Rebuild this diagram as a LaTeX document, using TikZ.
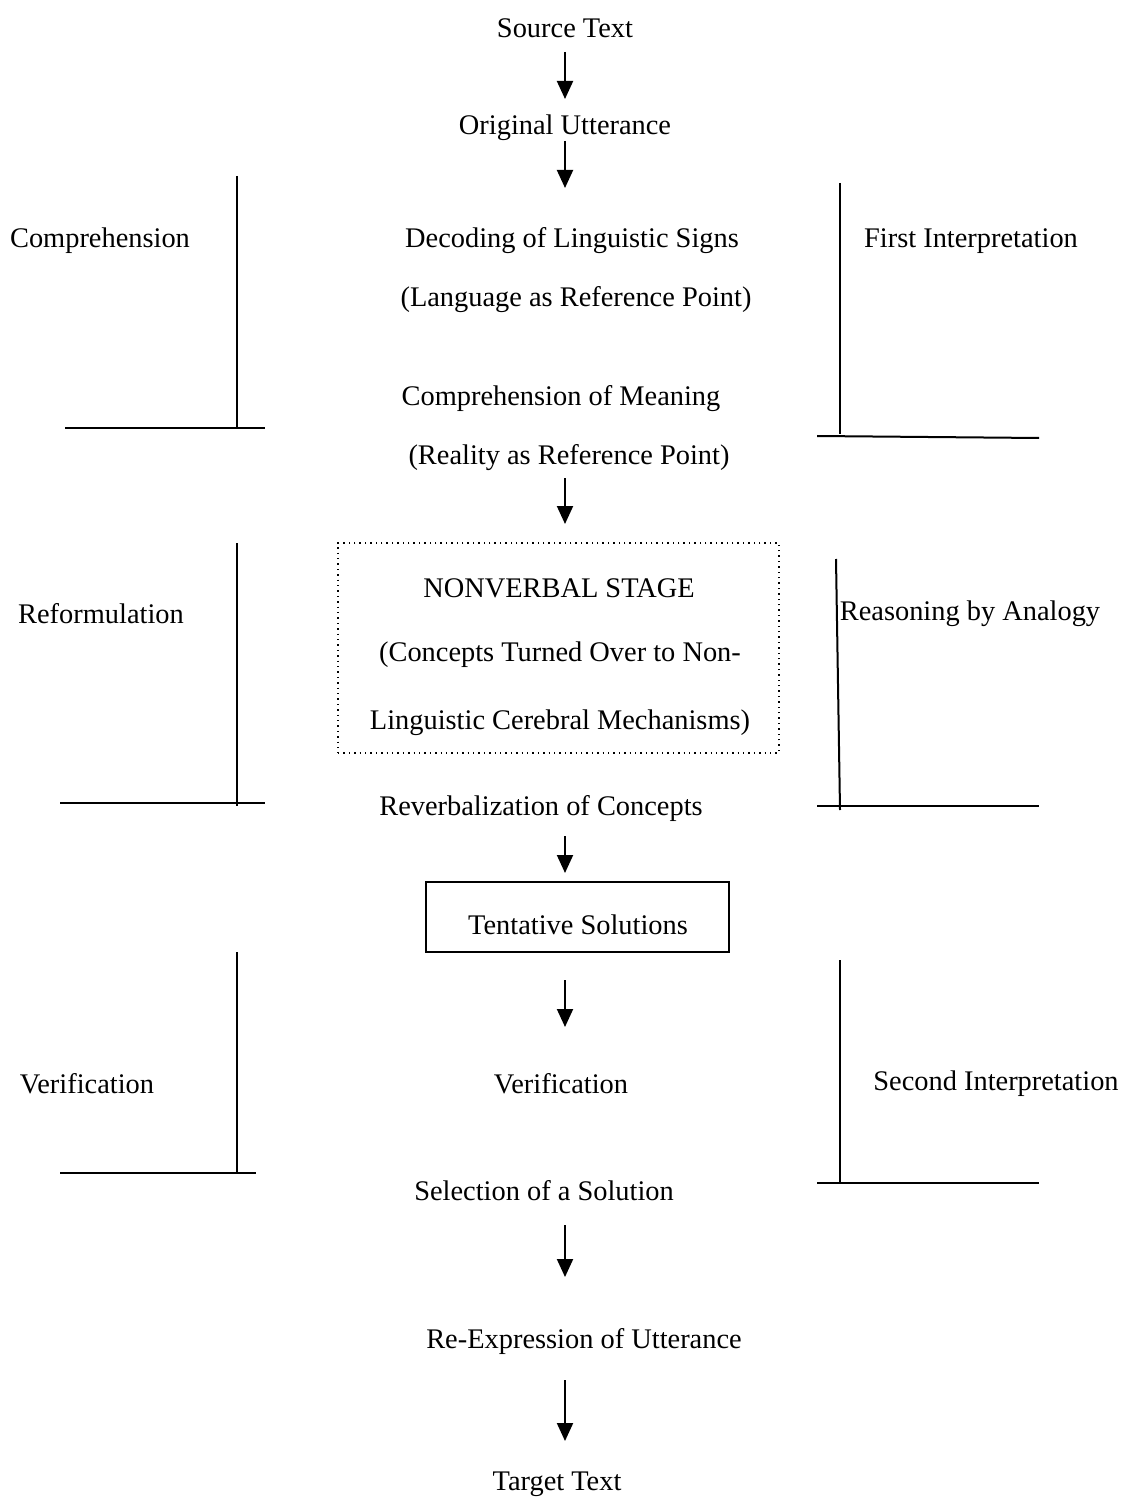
\documentclass[tikz,border=0pt]{standalone}
\usepackage{fontspec}
\setmainfont{Liberation Serif}
\usetikzlibrary{arrows.meta}
\begin{document}
\begin{tikzpicture}[x=0.5pt,y=-0.5pt,
  txt/.style={inner sep=0pt,yshift=-1.5pt,font=\fontsize{14.2}{17}\selectfont},
  brk/.style={line width=1pt},
  arr/.style={line width=1pt,-{Triangle[length=9pt,width=8pt]}},
  solidbox/.style={draw,line width=0.8pt},
  dotbox/.style={draw,dotted,line width=0.7pt}]
\useasboundingbox (0,0) rectangle (1123,1497);
% texts
\node[txt] (src) at (565,25) {Source Text};
\node[txt] (orig) at (565,125) {Original Utterance};
\node[txt] (dec) at (572,238) {Decoding of Linguistic Signs};
\node[txt] (lang) at (576,297) {(Language as Reference Point)};
\node[txt] (comm) at (561,396) {Comprehension of Meaning};
\node[txt] (real) at (569,455) {(Reality as Reference Point)};
\node[txt] (compL) at (100,238) {Comprehension};
\node[txt] (firstI) at (971,238) {First Interpretation};
\node[dotbox,minimum width=441*0.5pt,minimum height=210*0.5pt] (nvbox) at (558.5,648) {};
\node[txt] (nv1) at (559,585) {NONVERBAL STAGE};
\node[txt] (nv2) at (560,652) {(Concepts Turned Over to Non-};
\node[txt] (nv3) at (560,720) {Linguistic Cerebral Mechanisms)};
\node[txt] (refL) at (101,611) {Reformulation};
\node[txt] (reas) at (970,611) {Reasoning by Analogy};
\node[txt] (reverb) at (541,806) {Reverbalization of Concepts};
\node[solidbox,minimum width=303*0.5pt,minimum height=70*0.5pt] (tbox) at (577.5,917) {};
\node[txt] (tent) at (578,922) {Tentative Solutions};
\node[txt] (verL) at (87,1081) {Verification};
\node[txt] (verC) at (561,1081) {Verification};
\node[txt] (secI) at (996,1081) {Second Interpretation};
\node[txt] (sel) at (544,1188) {Selection of a Solution};
\node[txt] (reexp) at (584,1339) {Re-Expression of Utterance};
\node[txt] (tgt) at (557,1481) {Target Text};
% arrow end points
\coordinate (a1s) at (565,52);   \coordinate (a1e) at (565,99);
\coordinate (a2s) at (565,141);  \coordinate (a2e) at (565,188);
\coordinate (a3s) at (565,478);  \coordinate (a3e) at (565,524);
\coordinate (a4s) at (565,836);  \coordinate (a4e) at (565,873);
\coordinate (a5s) at (565,980);  \coordinate (a5e) at (565,1027);
\coordinate (a6s) at (565,1225); \coordinate (a6e) at (565,1277);
\coordinate (a7s) at (565,1380); \coordinate (a7e) at (565,1441);
\foreach \i in {1,...,7} {\draw[arr] (a\i s) -- (a\i e);}
% brackets
\coordinate (l1t) at (237,176); \coordinate (l1b) at (237,428);
\coordinate (l1a) at (65,428);  \coordinate (l1c) at (265,428);
\draw[brk] (l1t) -- (l1b); \draw[brk] (l1a) -- (l1c);
\coordinate (r1t) at (840,183); \coordinate (r1b) at (840,434);
\coordinate (r1a) at (817,436); \coordinate (r1c) at (1039,438);
\draw[brk] (r1t) -- (r1b); \draw[brk] (r1a) -- (r1c);
\coordinate (l2t) at (237,543); \coordinate (l2b) at (237,806);
\coordinate (l2a) at (60,803);  \coordinate (l2c) at (265,803);
\draw[brk] (l2t) -- (l2b); \draw[brk] (l2a) -- (l2c);
\coordinate (r2t) at (836,559); \coordinate (r2b) at (840,810);
\coordinate (r2a) at (817,806); \coordinate (r2c) at (1039,806);
\draw[brk] (r2t) -- (r2b); \draw[brk] (r2a) -- (r2c);
\coordinate (l3t) at (237,952); \coordinate (l3b) at (237,1173);
\coordinate (l3a) at (60,1173); \coordinate (l3c) at (256,1173);
\draw[brk] (l3t) -- (l3b); \draw[brk] (l3a) -- (l3c);
\coordinate (r3t) at (840,960); \coordinate (r3b) at (840,1183);
\coordinate (r3a) at (817,1183); \coordinate (r3c) at (1039,1183);
\draw[brk] (r3t) -- (r3b); \draw[brk] (r3a) -- (r3c);
\end{tikzpicture}
\end{document}
